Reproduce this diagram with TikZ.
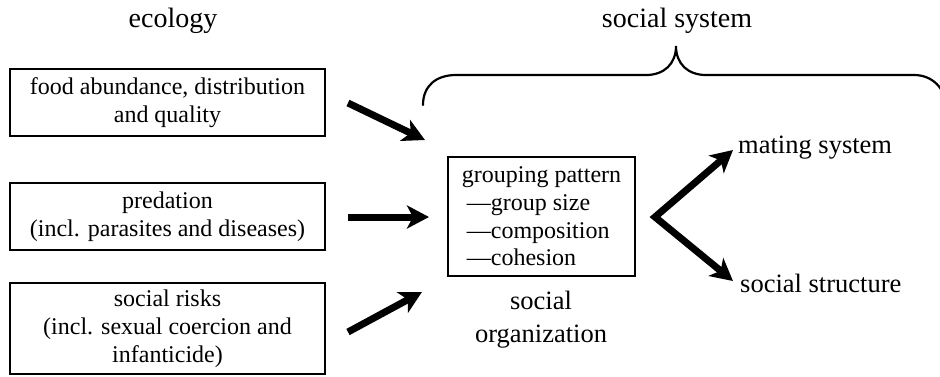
\documentclass[tikz,border=0pt]{standalone}
\usepackage{fontspec}
\setmainfont{Liberation Serif}
\usetikzlibrary{arrows.meta}
\tikzset{
  ecobox/.style={draw, line width=1.8pt, minimum width=315pt, align=center, inner sep=0pt,
    font=\fontsize{24}{28}\selectfont},
  heading/.style={inner sep=0pt, anchor=base, font=\fontsize{28}{32}\selectfont},
  label/.style={inner sep=0pt, font=\fontsize{26.5}{33}\selectfont},
  bigarrow/.style={line width=7pt, -{Stealth[length=22pt,width=23pt,inset=6pt]}},
  brace/.style={line width=2.2pt, line cap=round}
}
\begin{document}
\begin{tikzpicture}[x=1pt,y=-1pt]
\clip (0,0) rectangle (940,376);
\fill[white] (0,0) rectangle (940,376);
% headings
\node[heading] (eco) at (173,27) {ecology};
\node[heading] (soc) at (677,27) {social system};
% left boxes
\node[ecobox, minimum height=67pt] (food) at (167.5,102.5) {food abundance, distribution\\and quality};
\node[ecobox, minimum height=67pt] (pred) at (167.5,216.5) {predation\\(incl. parasites and diseases)};
\node[ecobox, minimum height=91pt] (risk) at (167.5,328.5) {social risks\\(incl. sexual coercion and\\infanticide)};
% middle box
\node[draw, line width=1.8pt, minimum width=187pt, minimum height=119pt, inner xsep=0pt,
  align=left, font=\fontsize{24}{27.6}\selectfont] (grp) at (541.5,216.5)
  {grouping pattern\\\hspace*{5pt}—group size\\\hspace*{5pt}—composition\\\hspace*{5pt}—cohesion};
\node[label, align=center] (org) at (541,319.5) {social\\organization};
% right labels
\node[label, anchor=base west] (mate) at (738,153) {mating system};
\node[label, anchor=base west] (struct) at (740,292) {social structure};
% arrow coordinates
\coordinate (a1s) at (348,103);
\coordinate (a1e) at (425,140);
\coordinate (a2s) at (348,217);
\coordinate (a2e) at (429,217);
\coordinate (a3s) at (348,332);
\coordinate (a3e) at (422,292);
\coordinate (v) at (655,217);
\coordinate (mt) at (733,150);
\coordinate (st) at (733,281);
\draw[bigarrow] (a1s) -- (a1e);
\draw[bigarrow] (a2s) -- (a2e);
\draw[bigarrow] (a3s) -- (a3e);
\draw[line width=7pt, line join=miter, {Stealth[length=22pt,width=23pt,inset=6pt]}-{Stealth[length=22pt,width=23pt,inset=6pt]}] (mt) -- (v) -- (st);
% brace
\coordinate (bl) at (423,105);
\coordinate (bm) at (676,46);
\coordinate (br) at (946,108);
\draw[brace] (bl) .. controls (423,86) and (436,75) .. (456,75) -- (646,75)
  .. controls (664,75) and (676,64) .. (bm)
  .. controls (676,64) and (688,75) .. (706,75) -- (914,75)
  .. controls (932,75) and (946,88) .. (br);
\end{tikzpicture}
\end{document}
